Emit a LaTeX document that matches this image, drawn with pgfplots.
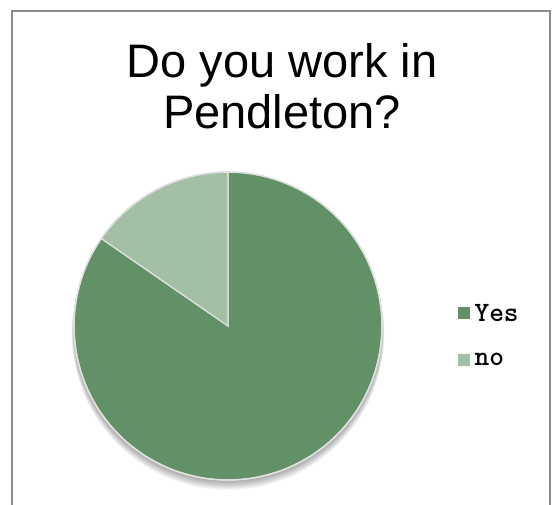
\documentclass[border=0pt]{standalone}
\usepackage{fontspec}
\setmainfont{Liberation Sans}
\newcommand{\legtext}[1]{{\ttfamily\bfseries\fontsize{28}{30}\selectfont #1}}
\usepackage{pgfplots}
\usepackage{pgfplotstable}
\pgfplotsset{compat=1.18}

\definecolor{yesgreen}{RGB}{99,145,103}
\definecolor{nogreen}{RGB}{163,191,165}
\definecolor{framegray}{RGB}{140,140,140}
\definecolor{rimgray}{RGB}{225,225,225}

% answers to "Do you work in Pendleton?"
\pgfplotstableread{
answer count
Yes 11
no 2
}\answers

\begin{document}
\begin{tikzpicture}[x=1pt,y=1pt]
\pgfplotstablegetelem{0}{count}\of\answers \let\nyes\pgfplotsretval
\pgfplotstablegetelem{1}{count}\of\answers \let\nno\pgfplotsretval
% slices run clockwise from 12 o'clock
\pgfmathsetmacro{\split}{90-360*\nyes/(\nyes+\nno)}
\pgfmathsetmacro{\stop}{\split-360*\nno/(\nyes+\nno)}

\path[use as bounding box] (0,0) rectangle (559,504);
\draw[framegray, line width=1.5pt] (12,-5) -- (12,493) -- (550,493) -- (550,-5);

\node[anchor=base, font=\fontsize{47}{52}\selectfont] at (282,426) {Do you work in};
\node[anchor=base, font=\fontsize{47}{52}\selectfont] at (282,375) {Pendleton?};

\begin{axis}[
  at={(228pt,178pt)}, anchor=center,
  scale only axis, width=308pt, height=308pt,
  xmin=-1, xmax=1, ymin=-1, ymax=1,
  hide axis, clip=false,
  legend cell align=left,
  legend style={at={(axis description cs:1.235,0.47)}, anchor=west,
    draw=none, fill=none, row sep=26pt,
    nodes={inner xsep=5pt}},
  legend image code/.code={\fill[#1,draw=none] (0pt,-6pt) rectangle (12pt,6pt);},
]
  % soft shadow under the pie
  \pgfplotsinvokeforeach{1,...,7}{
    \fill[black, opacity=0.055] (axis cs:0,{-0.007*#1}) circle[radius={1+0.002*#1}];
  }
  \addplot[fill=yesgreen, draw=rimgray, line width=1.2pt, samples=120,
    domain=\split:90, variable=\t] ({cos(\t)},{sin(\t)}) -- (axis cs:0,0) -- cycle;
  \addlegendentry{\legtext{Yes}}
  \addplot[fill=nogreen, draw=rimgray, line width=1.2pt, samples=40,
    domain=\stop:\split, variable=\t] ({cos(\t)},{sin(\t)}) -- (axis cs:0,0) -- cycle;
  \addlegendentry{\legtext{no}}
  \draw[rimgray, line width=1.5pt] (axis cs:0,0) circle[radius=1];
\end{axis}
\end{tikzpicture}
\end{document}
